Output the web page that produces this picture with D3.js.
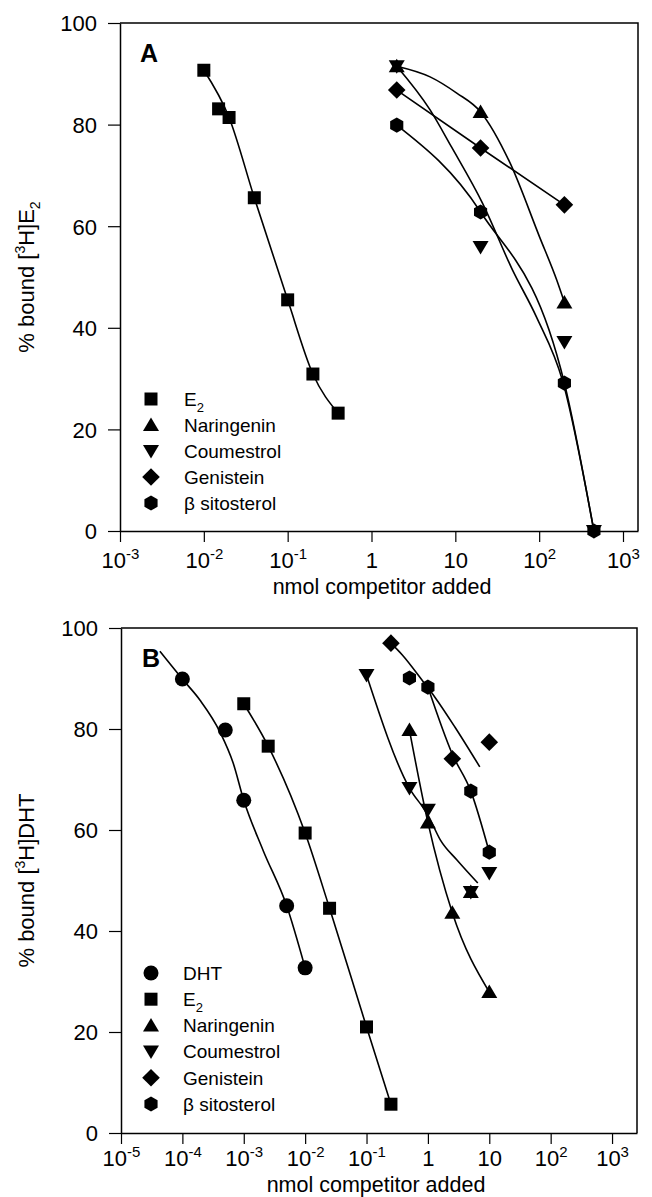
<!DOCTYPE html>
<html><head><meta charset="utf-8">
<script src="https://cdn.jsdelivr.net/npm/d3@7"></script>
<style>body{margin:0;background:#fff} svg{display:block}</style>
</head><body><svg id="c" width="652" height="1197"></svg>
<script>
// ---------------- data ----------------
const yTicks = [0, 20, 40, 60, 80, 100];
const yDomain = [0, 100];
const xTicksA = [1e-3, 1e-2, 1e-1, 1, 10, 100, 1000];
const xTickLabelsA = [["10","-3"],["10","-2"],["10","-1"],["1",""],["10",""],["10","2"],["10","3"]];
const xTicksB = [1e-5, 1e-4, 1e-3, 1e-2, 1e-1, 1, 10, 100, 1000];
const xTickLabelsB = [["10","-5"],["10","-4"],["10","-3"],["10","-2"],["10","-1"],["1",""],["10",""],["10","2"],["10","3"]];
const xDomainA = [1e-3, 1510];
const xDomainB = [1e-5, 2550];
const xTitle = "nmol competitor added";

// legend entries: [base, subscript, shape]
const legendA = [["E","2","square"],["Naringenin","","triUp"],["Coumestrol","","triDown"],["Genistein","","diamond"],["β sitosterol","","hexagon"]];
const legendB = [["DHT","","circle"],["E","2","square"],["Naringenin","","triUp"],["Coumestrol","","triDown"],["Genistein","","diamond"],["β sitosterol","","hexagon"]];

// Panel A  (x = nmol, y = % bound)
const aE2 = [[0.01,90.7],[0.015,83.1],[0.02,81.4],[0.04,65.6],[0.1,45.5],[0.2,30.9],[0.4,23.2]];
const aE2Fit = [[0.01,90.7],[0.02,81.4],[0.04,65.6],[0.1,45.5],[0.2,30.9],[0.4,23.2]];
const aNar = [[2,91.5],[20,82.5],[200,45]];
const aNarFit = [[2,91.5],[5,89.4],[10.4,86.2],[20,82.5],[44.5,72.6],[101,57.9],[162,49.4],[200,45]];
const aCou = [[2,91.5],[20,55.9],[200,37.2],[450,0]];
const aCouFit = [[2,91.5],[5,82.9],[9,75.6],[21,64.6],[48,51.4],[93,42.1],[190,29.6],[450,0]];
const aGen = [[2,86.8],[20,75.4],[200,64.2]];
const aSit = [[2,79.9],[20,62.8],[200,29.1],[450,0]];

// Panel B
const bDHT = [[1e-4,89.9],[5e-4,79.8],[1e-3,65.9],[5e-3,45],[1e-2,32.7]];
const bDHTFit = [[4.3e-5,95.4],[1e-4,89.9],[1.94e-4,85.7],[4.1e-4,79.4],[6.7e-4,73.3],[1e-3,65.9],[2.06e-3,56],[5e-3,45],[1e-2,32.7]];
const bE2 = [[1e-3,85],[2.5e-3,76.6],[1e-2,59.4],[0.025,44.5],[0.1,21],[0.25,5.7]];
const bNar = [[0.5,79.8],[1,61.5],[2.5,43.6],[5,47.7],[10,27.9]];
const bNarFit = [[0.5,79.8],[1,61.5],[2.5,43.6],[10,27.9]];
const bCou = [[0.1,90.7],[0.5,68.3],[1,64],[5,47.7],[10,51.5]];
const bCouFit = [[0.1,90.7],[0.5,68.3],[1,63],[1.6,58],[3,54],[6.5,49.5]];
const bGen = [[0.25,97],[2.5,74.1],[10,77.4]];
const bGenFit = [[0.25,97],[0.38,94.7],[0.8,89.7],[1.3,86.3],[2.75,80.4],[7,72.5]];
const bSit = [[0.5,90.1],[1,88.3],[5,67.7],[10,55.6]];
const bSitFit = [[1,88.3],[2.5,75],[5,67.7],[10,55.6]];

// ---------------- drawing ----------------
const svg = d3.select("#c");
const FONT = "'Liberation Sans', Arial, Helvetica, sans-serif";

function shapePath(s) {
  switch (s) {
    case "square": return "M-6.5,-6.5H6.5V6.5H-6.5Z";
    case "circle": return d3.symbol(d3.symbolCircle, Math.PI * 7.5 * 7.5)();
    case "triUp": return "M0,-7.5L8,6L-8,6Z";
    case "triDown": return "M0,7.5L8,-6L-8,-6Z";
    case "diamond": return "M0,-8.8L8.8,0L0,8.8L-8.8,0Z";
    case "hexagon": {
      const pts = d3.range(6).map(i => { const a = (-90 + 60 * i) * Math.PI / 180; return [7.6 * Math.cos(a), 7.6 * Math.sin(a)]; });
      return "M" + pts.map(p => p.join(",")).join("L") + "Z";
    }
  }
}

function panel(cfg) {
  const g = svg.append("g");
  const x = d3.scaleLog().domain(cfg.xDomain).range([cfg.left, cfg.right]);
  const y = d3.scaleLinear().domain(yDomain).range([cfg.bottom, cfg.top]);

  // frame (top & right)
  g.append("path")
    .attr("d", `M${cfg.left},${cfg.top}H${cfg.right}V${cfg.bottom}`)
    .attr("fill", "none").attr("stroke", "#000").attr("stroke-width", 1.5);

  // y axis
  const ya = g.append("g").attr("transform", `translate(${cfg.left},0)`)
    .call(d3.axisLeft(y).tickValues(yTicks).tickSize(12).tickSizeOuter(0).tickPadding(11));
  ya.select(".domain").attr("stroke-width", 1.5);
  ya.selectAll(".tick line").attr("stroke-width", 1.2);
  ya.selectAll("text").attr("font-family", FONT).attr("font-size", 22).attr("fill", "#000").attr("dy", "0.36em");

  // x axis
  const xa = g.append("g").attr("transform", `translate(0,${cfg.bottom})`)
    .call(d3.axisBottom(x).tickValues(cfg.xTicks).tickSize(11).tickSizeOuter(0).tickFormat(() => ""));
  xa.select(".domain").attr("stroke-width", 1.5);
  xa.selectAll(".tick line").attr("stroke-width", 1.2);
  xa.selectAll(".tick text").each(function (d, i) {
    const t = d3.select(this);
    const lab = cfg.xLabels[i];
    t.text(null).attr("y", cfg.xLabelY).attr("dy", 0)
      .attr("font-family", FONT).attr("font-size", 22).attr("fill", "#000");
    t.append("tspan").text(lab[0]);
    if (lab[1]) t.append("tspan").attr("dy", -9).attr("font-size", 15).text(lab[1]);
  });

  // x title
  g.append("text").attr("x", cfg.xTitleX).attr("y", cfg.xTitleY)
    .attr("text-anchor", "middle").attr("font-family", FONT).attr("font-size", 21.5)
    .text(xTitle);

  // y title
  const yt = g.append("text")
    .attr("transform", `translate(34,${(cfg.top + cfg.bottom) / 2}) rotate(-90)`)
    .attr("text-anchor", "middle").attr("font-family", FONT).attr("font-size", 22);
  yt.append("tspan").text("% bound [");
  yt.append("tspan").attr("dy", -9).attr("font-size", 14).text("3");
  yt.append("tspan").attr("dy", 9).text("H]" + cfg.yTitleEnd);
  if (cfg.yTitleSub) yt.append("tspan").attr("dy", 6).attr("font-size", 14).text(cfg.yTitleSub);

  // panel letter
  g.append("text").attr("x", cfg.letterX).attr("y", cfg.letterY)
    .attr("font-family", FONT).attr("font-size", 25).attr("font-weight", "bold").text(cfg.letter);

  // curves
  cfg.series.forEach(s => {
    const line = d3.line().x(d => x(d[0])).y(d => y(d[1])).curve(s.curve || d3.curveMonotoneX);
    g.append("path").datum(s.fit).attr("d", line)
      .attr("fill", "none").attr("stroke", "#000").attr("stroke-width", 1.6);
  });
  // markers
  cfg.series.forEach(s => {
    g.append("g").selectAll("path").data(s.pts).join("path")
      .attr("transform", d => `translate(${x(d[0])},${y(d[1])})`)
      .attr("d", shapePath(s.shape)).attr("fill", "#000");
  });

  // legend
  cfg.legend.forEach((L, i) => {
    const cy = cfg.legendY + i * cfg.legendStep;
    g.append("path").attr("transform", `translate(${cfg.legendSymX},${cy})`).attr("d", shapePath(L[2])).attr("fill", "#000");
    const t = g.append("text").attr("x", cfg.legendTextX).attr("y", cy).attr("dy", "0.36em")
      .attr("font-family", FONT).attr("font-size", 19);
    t.append("tspan").text(L[0]);
    if (L[1]) t.append("tspan").attr("dy", 6).attr("font-size", 13).text(L[1]);
  });
}

panel({
  left: 120, right: 638, top: 23, bottom: 531,
  xDomain: xDomainA, xTicks: xTicksA, xLabels: xTickLabelsA, xLabelY: 37,
  xTitleX: 382, xTitleY: 594,
  yTitleEnd: "E", yTitleSub: "2",
  letter: "A", letterX: 140, letterY: 62,
  legend: legendA, legendY: 399, legendStep: 26, legendSymX: 151, legendTextX: 184,
  series: [
    { pts: aE2, fit: aE2Fit, shape: "square" },
    { pts: aNar, fit: aNarFit, shape: "triUp" },
    { pts: aCou, fit: aCouFit, shape: "triDown" },
    { pts: aGen, fit: aGen, shape: "diamond", curve: d3.curveLinear },
    { pts: aSit, fit: aSit, shape: "hexagon" }
  ]
});

panel({
  left: 121, right: 637, top: 628, bottom: 1133,
  xDomain: xDomainB, xTicks: xTicksB, xLabels: xTickLabelsB, xLabelY: 33,
  xTitleX: 376, xTitleY: 1192,
  yTitleEnd: "DHT", yTitleSub: "",
  letter: "B", letterX: 142, letterY: 667,
  legend: legendB, legendY: 973, legendStep: 26.2, legendSymX: 151, legendTextX: 183,
  series: [
    { pts: bDHT, fit: bDHTFit, shape: "circle" },
    { pts: bE2, fit: bE2, shape: "square" },
    { pts: bNar, fit: bNarFit, shape: "triUp" },
    { pts: bCou, fit: bCouFit, shape: "triDown" },
    { pts: bGen, fit: bGenFit, shape: "diamond" },
    { pts: bSit, fit: bSitFit, shape: "hexagon" }
  ]
});
</script>
</body></html>
